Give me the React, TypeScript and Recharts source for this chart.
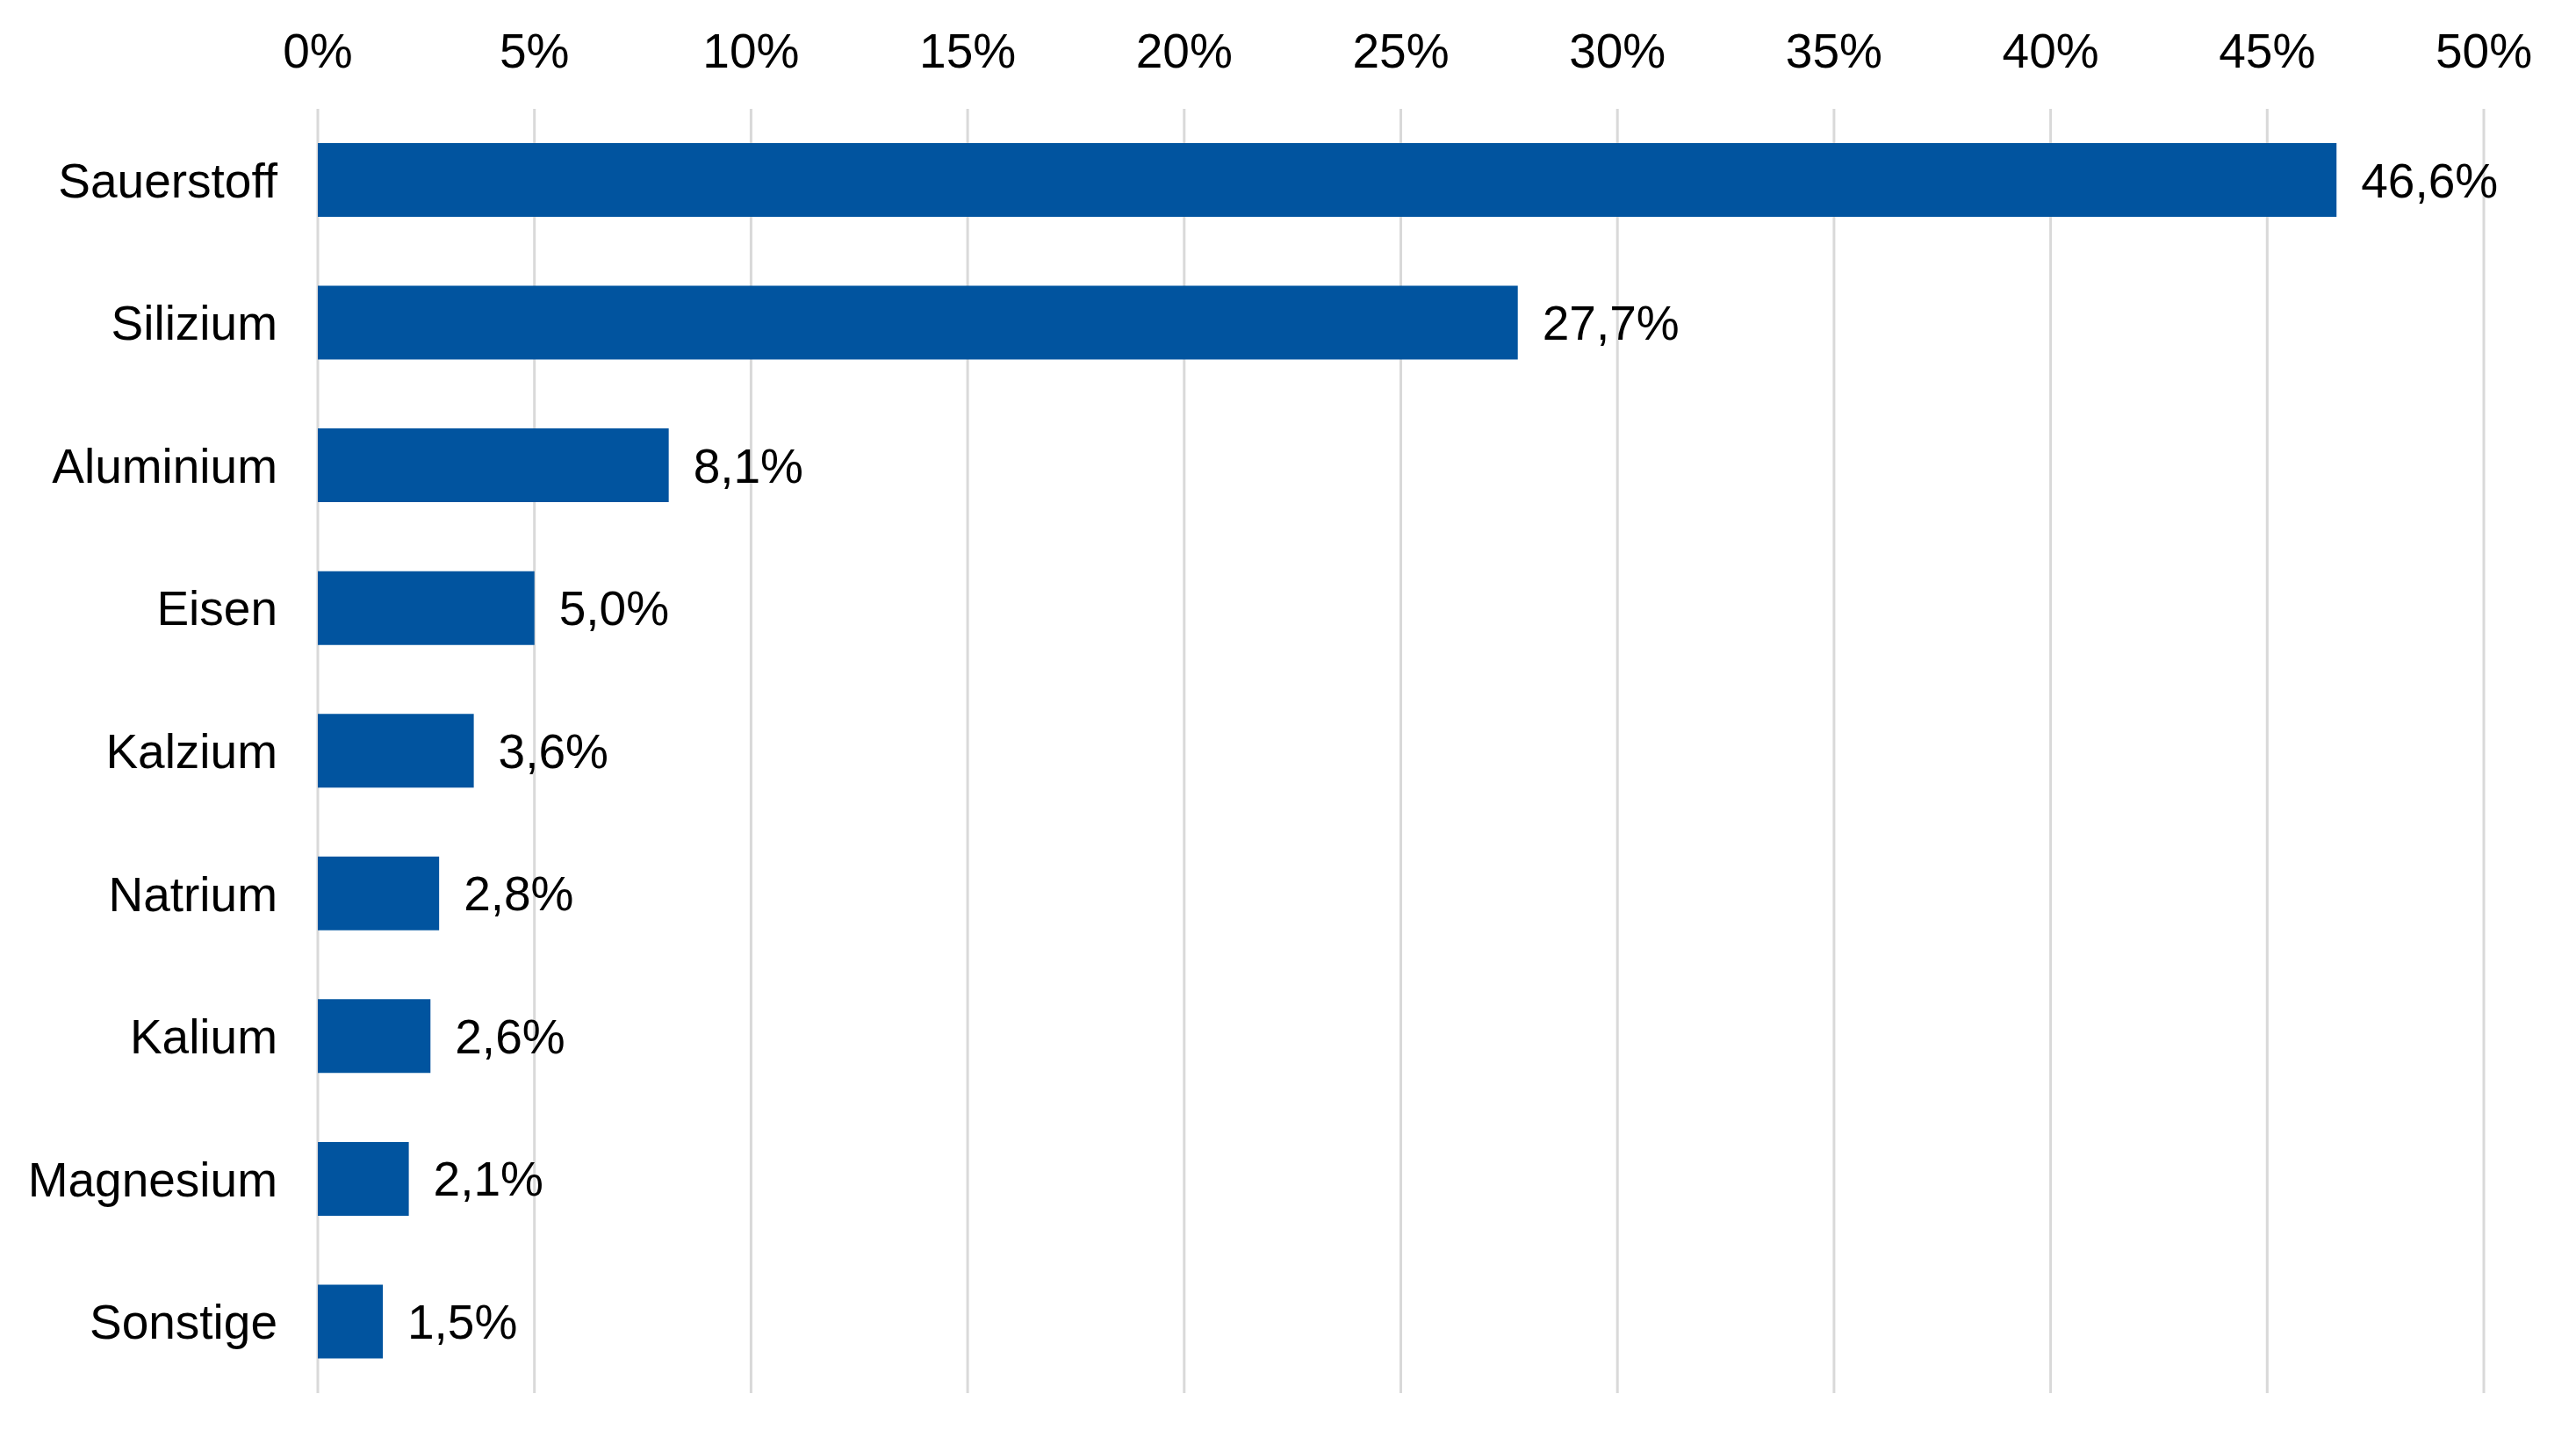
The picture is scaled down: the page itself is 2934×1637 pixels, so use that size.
import { BarChart, Bar, XAxis, YAxis, CartesianGrid, LabelList } from "recharts";

const elements = [
  "Sauerstoff",
  "Silizium",
  "Aluminium",
  "Eisen",
  "Kalzium",
  "Natrium",
  "Kalium",
  "Magnesium",
  "Sonstige",
];
const shares = [46.6, 27.7, 8.1, 5.0, 3.6, 2.8, 2.6, 2.1, 1.5];
const xTicks = [0, 5, 10, 15, 20, 25, 30, 35, 40, 45, 50];

const data = elements.map((name, i) => ({ name, share: shares[i] }));

const font = "'Liberation Sans', Arial, sans-serif";

export default function App() {
  return (
    <div style={{ width: 2918, height: 1621, fontFamily: font }}>
      <BarChart
        width={2918}
        height={1621}
        data={data}
        layout="vertical"
        barSize={84}
        margin={{ top: 0, right: 97, bottom: 42, left: 0 }}
      >
        <CartesianGrid horizontal={false} stroke="#d9d9d9" strokeWidth={3} />
        <XAxis
          type="number"
          orientation="top"
          domain={[0, 50]}
          ticks={xTicks}
          height={116}
          axisLine={false}
          tickLine={false}
          tickSize={0}
          tickMargin={47}
          interval={0}
          tickFormatter={(v) => `${v}%`}
          tick={{ fill: "#000", fontSize: 55, fontFamily: font }}
        />
        <YAxis
          type="category"
          dataKey="name"
          width={354}
          axisLine={false}
          tickLine={false}
          tickSize={0}
          tickMargin={46}
          interval={0}
          tick={{ fill: "#000", fontSize: 55, fontFamily: font }}
        />
        <Bar dataKey="share" fill="#01549f" isAnimationActive={false}>
          <LabelList
            dataKey="share"
            position="right"
            offset={28}
            formatter={(v: number) => `${v.toFixed(1).replace(".", ",")}%`}
            style={{ fill: "#000", fontSize: 55, fontFamily: font }}
          />
        </Bar>
      </BarChart>
    </div>
  );
}
